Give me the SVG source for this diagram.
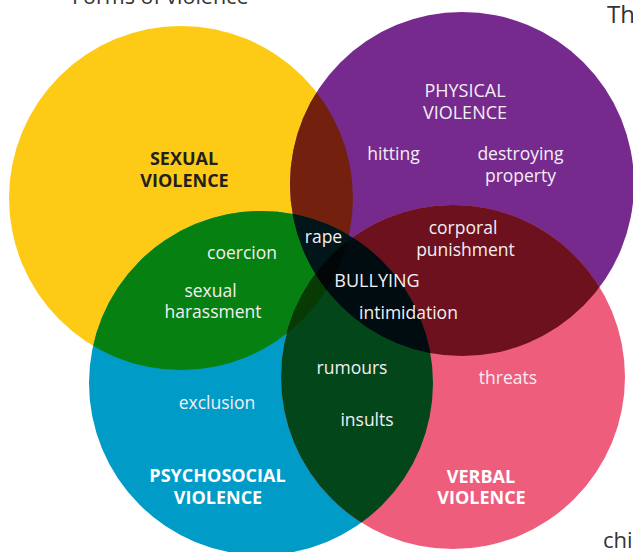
<svg xmlns="http://www.w3.org/2000/svg" width="633" height="552" viewBox="0 0 633 552">
  <style>
    .lbl { font-family: "Open Sans", "Noto Sans", sans-serif; font-size: 17.5px; fill: #f3eff3; text-anchor: middle; }
    .cap { font-family: "Open Sans", "Noto Sans", sans-serif; font-size: 18px; fill: #f3eff3; text-anchor: middle; }
    .bold { font-family: "Open Sans", "Noto Sans", sans-serif; font-size: 18px; font-weight: bold; text-anchor: middle; }
    .page { font-family: "Open Sans", "Noto Sans", sans-serif; fill: #333333; }
  </style>
  <defs>
    <!-- one circle per form of violence, all r = 172 -->
    <circle id="cy" cx="181" cy="198" r="172"/>
    <circle id="cp" cx="462" cy="184" r="172"/>
    <circle id="cb" cx="261" cy="383" r="172"/>
    <circle id="ck" cx="453" cy="377" r="172"/>
    <clipPath id="clipY"><use href="#cy"/></clipPath>
    <clipPath id="clipP"><use href="#cp"/></clipPath>
    <clipPath id="clipB"><use href="#cb"/></clipPath>
    <clipPath id="clipK"><use href="#ck"/></clipPath>
  </defs>

  <rect width="633" height="552" fill="#ffffff"/>

  <!-- surrounding page text -->
  <text class="page" x="72" y="4" font-size="21.5">Forms of violence</text>
  <text class="page" x="607" y="23" font-size="24">Th</text>
  <text class="page" x="603" y="548" font-size="22">chi</text>

  <!-- base circles -->
  <g id="sexual">
    <use href="#cy" fill="#fdcb16"/>
  </g>
  <g id="physical">
    <use href="#cp" fill="#772a8e"/>
  </g>
  <g id="psychosocial">
    <use href="#cb" fill="#009bc6"/>
  </g>
  <g id="verbal">
    <use href="#ck" fill="#ef5d7d"/>
  </g>

  <!-- pairwise overlaps -->
  <g id="overlaps">
    <g clip-path="url(#clipY)"><use href="#cp" fill="#74200f"/></g>
    <g clip-path="url(#clipY)"><use href="#cb" fill="#068010"/></g>
    <g clip-path="url(#clipY)"><use href="#ck" fill="#3a1a08"/></g>
    <g clip-path="url(#clipP)"><use href="#cb" fill="#0a0c20"/></g>
    <g clip-path="url(#clipP)"><use href="#ck" fill="#6c111d"/></g>
    <g clip-path="url(#clipB)"><use href="#ck" fill="#03461a"/></g>

    <!-- triple overlaps -->
    <g clip-path="url(#clipY)"><g clip-path="url(#clipP)"><use href="#cb" fill="#02161a"/></g></g>
    <g clip-path="url(#clipY)"><g clip-path="url(#clipP)"><use href="#ck" fill="#200808"/></g></g>
    <g clip-path="url(#clipY)"><g clip-path="url(#clipB)"><use href="#ck" fill="#083a06"/></g></g>
    <g clip-path="url(#clipP)"><g clip-path="url(#clipB)"><use href="#ck" fill="#010c10"/></g></g>

    <!-- all four -->
    <g clip-path="url(#clipY)"><g clip-path="url(#clipP)"><g clip-path="url(#clipB)"><use href="#ck" fill="#020607"/></g></g></g>
  </g>

  <!-- labels -->
  <g id="labels">
    <text class="bold" x="184" y="165" fill="#231f20">SEXUAL</text>
    <text class="bold" x="184.5" y="187" fill="#231f20">VIOLENCE</text>

    <text class="cap" x="465" y="97">PHYSICAL</text>
    <text class="cap" x="465" y="119">VIOLENCE</text>
    <text class="lbl" x="393.5" y="160">hitting</text>
    <text class="lbl" x="520.5" y="160">destroying</text>
    <text class="lbl" x="520.5" y="182">property</text>

    <text class="lbl" x="242" y="258.5">coercion</text>
    <text class="lbl" x="210.5" y="296.5">sexual</text>
    <text class="lbl" x="213" y="318">harassment</text>

    <text class="lbl" x="323.5" y="243">rape</text>
    <text class="cap" x="377" y="286.5">BULLYING</text>
    <text class="lbl" x="408.5" y="319">intimidation</text>
    <text class="lbl" x="463" y="234">corporal</text>
    <text class="lbl" x="465.5" y="255.5">punishment</text>

    <text class="lbl" x="352" y="374">rumours</text>
    <text class="lbl" x="367" y="426">insults</text>
    <text class="lbl" x="508" y="383.5">threats</text>
    <text class="lbl" x="217" y="409">exclusion</text>

    <text class="bold" x="217.5" y="482" fill="#ffffff">PSYCHOSOCIAL</text>
    <text class="bold" x="218" y="504" fill="#ffffff">VIOLENCE</text>
    <text class="bold" x="481" y="482.5" fill="#ffffff">VERBAL</text>
    <text class="bold" x="481.5" y="504" fill="#ffffff">VIOLENCE</text>
  </g>
</svg>
